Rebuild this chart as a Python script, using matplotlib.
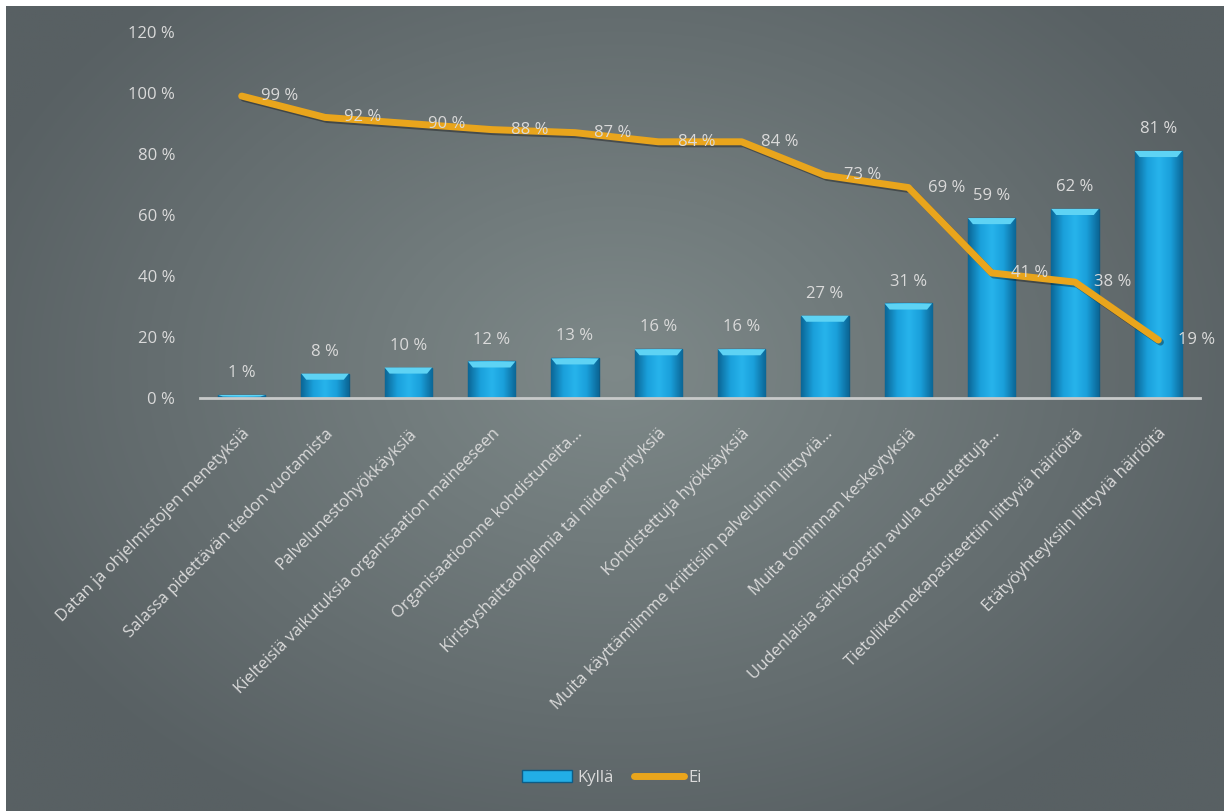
import numpy as np
import matplotlib
matplotlib.use("Agg")
import matplotlib.pyplot as plt
from matplotlib.patches import Polygon, Patch
from matplotlib.lines import Line2D
import matplotlib.patheffects as pe

plt.rcParams['font.family'] = ['Open Sans', 'DejaVu Sans']

# survey answers, share of respondents
categories = [
    "Datan ja ohjelmistojen menetyksiä",
    "Salassa pidettävän tiedon vuotamista",
    "Palvelunestohyökkäyksiä",
    "Kielteisiä vaikutuksia organisaation maineeseen",
    "Organisaatioonne kohdistuneita…",
    "Kiristyshaittaohjelmia tai niiden yrityksiä",
    "Kohdistettuja hyökkäyksiä",
    "Muita käyttämiimme kriittisiin palveluihin liittyviä…",
    "Muita toiminnan keskeytyksiä",
    "Uudenlaisia sähköpostin avulla toteutettuja…",
    "Tietoliikennekapasiteettiin liittyviä häiriöitä",
    "Etätyöyhteyksiin liittyviä häiriöitä",
]
kylla = [0.01, 0.08, 0.10, 0.12, 0.13, 0.16, 0.16, 0.27, 0.31, 0.59, 0.62, 0.81]
ei = [0.99, 0.92, 0.90, 0.88, 0.87, 0.84, 0.84, 0.73, 0.69, 0.41, 0.38, 0.19]
yticks = [0, 0.2, 0.4, 0.6, 0.8, 1.0, 1.2]

txt = '#DADADA'
orange = '#E9A51C'
fs = 12

fig = plt.figure(figsize=(12.24, 8.11), dpi=100)
fig.patch.set_facecolor('white')

# radial grey background
bg = fig.add_axes([6/1224, 0, 1 - 6/1224, 1 - 6/811])
bg.set_axis_off()
yy, xx = np.mgrid[0:1:400j, 0:1:600j]
r = np.sqrt(((xx - 0.5) / 0.75) ** 2 + ((yy - 0.55) / 0.85) ** 2)
r = np.clip(r / 0.75, 0, 1)
c0 = np.array([0x7E, 0x89, 0x89]) / 255
c1 = np.array([0x58, 0x60, 0x63]) / 255
img = c0[None, None, :] * (1 - r[..., None]) + c1[None, None, :] * r[..., None]
bg.imshow(img, aspect='auto', extent=(0, 1, 0, 1), origin='lower')
bg.set_xlim(0, 1)
bg.set_ylim(0, 1)

ax = fig.add_axes([200/1224, 1 - 398/811, 1000/1224, 366/811])
ax.patch.set_alpha(0)
x = np.arange(len(categories))
bw = 0.57
bars = ax.bar(x, kylla, width=bw, color='#1EA6E0', edgecolor='#0D5C86', linewidth=1, zorder=2)

# horizontal shading + light top bevel on every bar
cmap = matplotlib.colors.LinearSegmentedColormap.from_list(
    'bar', ['#0B6797', '#1A9FDA', '#27B4EC', '#1A9FDA', '#0B6797'])
grad = np.linspace(0, 1, 64)[None, :]
for b in bars:
    x0, w, h = b.get_x(), b.get_width(), b.get_height()
    im = ax.imshow(grad, cmap=cmap, aspect='auto', extent=(x0, x0 + w, 0, h),
                   zorder=2.1, interpolation='bicubic')
    im.set_clip_path(b)
    dy = min(0.02, h * 0.5)
    dx = 0.06
    top = Polygon([(x0, h), (x0 + w, h), (x0 + w - dx, h - dy), (x0 + dx, h - dy)],
                  closed=True, facecolor='#5ED3F4', edgecolor='none', zorder=2.2)
    ax.add_patch(top)
    ax.annotate(f"{round(h * 100)} %", (b.get_x() + w / 2, h), xytext=(0, 10),
                textcoords='offset points', ha='center', va='bottom',
                color=txt, fontsize=fs, zorder=4)

ax.plot(x, ei, color=orange, lw=5, solid_capstyle='round', solid_joinstyle='round',
        zorder=3, path_effects=[pe.SimpleLineShadow(offset=(1.5, -1.5), alpha=0.35),
                                pe.Normal()])
for xi, v in zip(x, ei):
    ax.annotate(f"{round(v * 100)} %", (xi, v), xytext=(14, 0),
                textcoords='offset points', ha='left', va='center',
                color=txt, fontsize=fs, zorder=4)

ax.set_xlim(-0.5, len(categories) - 0.5)
ax.set_ylim(0, 1.2)
ax.set_yticks(yticks)
ax.set_yticklabels([f"{round(t * 100)} %" for t in yticks], color=txt, fontsize=fs)
ax.set_xticks(x)
ax.set_xticklabels(categories, rotation=45, ha='right', va='top',
                   rotation_mode='anchor', color=txt, fontsize=fs)
ax.tick_params(axis='both', length=0)
ax.tick_params(axis='x', pad=20)
ax.tick_params(axis='y', pad=18)
for s in ['top', 'right', 'left']:
    ax.spines[s].set_visible(False)
ax.spines['bottom'].set_color('#C8CACA')
ax.spines['bottom'].set_linewidth(2)
ax.spines['bottom'].set_zorder(5)

handles = [Patch(facecolor='#22AEE6', edgecolor='#0D5C86'),
           Line2D([0], [0], color=orange, lw=5, solid_capstyle='round')]
fig.legend(handles, ['Kyllä', 'Ei'], loc='center', bbox_to_anchor=(0.5, 1 - 778/811),
           ncol=2, frameon=False, fontsize=fs, labelcolor=txt,
           handlelength=3, handletextpad=0.3, columnspacing=1.2)

fig.savefig('out.png', dpi=100)
